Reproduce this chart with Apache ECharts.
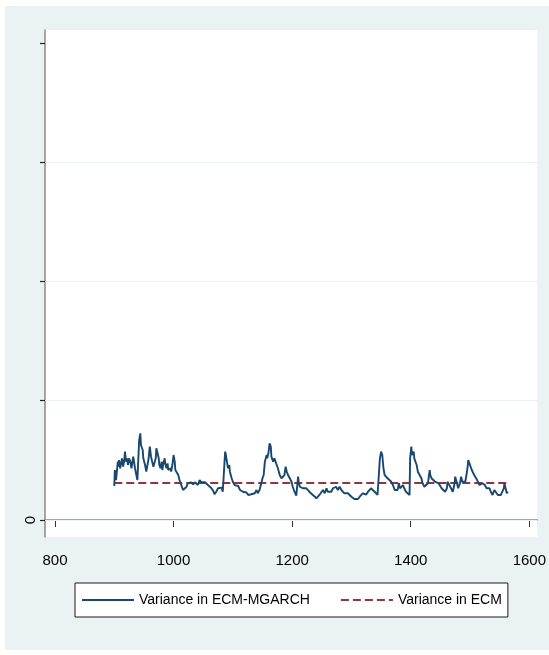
<!DOCTYPE html>
<html>
<head>
<meta charset="utf-8">
<script src="https://cdn.jsdelivr.net/npm/echarts@6/dist/echarts.min.js"></script>
<style>
  html, body { margin: 0; padding: 0; background: #ffffff; }
  #chart { width: 549px; height: 655px; }
</style>
</head>
<body>
<div id="chart"></div>
<script>
// Observation index of each estimate
const obs = [
  900, 901, 903, 906, 907, 908, 910, 913, 915, 917, 918, 920, 922, 923, 925, 927, 929, 932, 935, 939,
  942, 944, 945, 948, 949, 952, 954, 956, 958, 959, 960, 962, 964, 966, 967, 970, 971, 973, 975, 976,
  978, 980, 981, 983, 985, 986, 988, 990, 991, 993, 995, 996, 998, 1000, 1002, 1003, 1005, 1008, 1010, 1013,
  1016, 1019, 1022, 1024, 1027, 1030, 1033, 1036, 1039, 1041, 1044, 1047, 1050, 1053, 1055, 1058, 1061, 1064, 1067, 1069,
  1072, 1075, 1078, 1081, 1083, 1087, 1088, 1090, 1092, 1094, 1095, 1098, 1100, 1103, 1106, 1109, 1112, 1114, 1117, 1120,
  1123, 1126, 1128, 1131, 1134, 1137, 1140, 1142, 1145, 1148, 1150, 1152, 1154, 1157, 1158, 1160, 1162, 1164, 1165, 1168,
  1170, 1173, 1176, 1179, 1182, 1184, 1187, 1189, 1191, 1193, 1196, 1199, 1201, 1204, 1207, 1209, 1210, 1211, 1213, 1215,
  1218, 1221, 1224, 1227, 1229, 1232, 1235, 1238, 1241, 1243, 1246, 1249, 1252, 1255, 1258, 1260, 1263, 1266, 1269, 1272,
  1274, 1277, 1280, 1283, 1286, 1288, 1291, 1294, 1297, 1300, 1302, 1305, 1308, 1311, 1314, 1316, 1319, 1322, 1325, 1328,
  1330, 1333, 1336, 1339, 1342, 1344, 1347, 1348, 1350, 1352, 1354, 1356, 1359, 1361, 1364, 1367, 1370, 1373, 1375, 1378,
  1380, 1382, 1384, 1387, 1389, 1392, 1395, 1398, 1399, 1401, 1402, 1405, 1406, 1408, 1410, 1412, 1415, 1418, 1420, 1423,
  1426, 1429, 1432, 1433, 1435, 1438, 1441, 1444, 1447, 1450, 1452, 1455, 1458, 1461, 1462, 1465, 1468, 1471, 1474, 1475,
  1478, 1480, 1483, 1485, 1487, 1489, 1492, 1494, 1496, 1497, 1499, 1501, 1503, 1505, 1507, 1510, 1512, 1514, 1516, 1519,
  1521, 1523, 1525, 1528, 1530, 1533, 1535, 1538, 1541, 1544, 1547, 1549, 1552, 1555, 1557, 1558, 1560, 1562, 1564
];

// Conditional variance from the ECM-MGARCH model
const mgarchVariance = [
  0.285, 0.419, 0.335, 0.489, 0.447, 0.503, 0.434, 0.517, 0.447, 0.503, 0.573, 0.489, 0.517, 0.461, 0.517, 0.489, 0.434, 0.531, 0.434, 0.335,
  0.671, 0.727, 0.629, 0.587, 0.517, 0.461, 0.405, 0.392, 0.517, 0.573, 0.615, 0.531, 0.489, 0.447, 0.434, 0.517, 0.601, 0.559, 0.517, 0.461,
  0.434, 0.489, 0.419, 0.475, 0.517, 0.475, 0.434, 0.475, 0.419, 0.405, 0.434, 0.405, 0.461, 0.545, 0.489, 0.419, 0.405, 0.377, 0.335, 0.293,
  0.252, 0.237, 0.279, 0.308, 0.293, 0.316, 0.299, 0.316, 0.321, 0.293, 0.335, 0.316, 0.327, 0.316, 0.308, 0.293, 0.279, 0.266, 0.243, 0.216,
  0.237, 0.266, 0.252, 0.271, 0.237, 0.573, 0.553, 0.489, 0.434, 0.461, 0.405, 0.350, 0.321, 0.293, 0.279, 0.285, 0.252, 0.260, 0.237, 0.224,
  0.231, 0.210, 0.204, 0.216, 0.204, 0.224, 0.252, 0.224, 0.252, 0.308, 0.350, 0.377, 0.489, 0.545, 0.517, 0.559, 0.643, 0.615, 0.531, 0.489,
  0.517, 0.475, 0.434, 0.377, 0.350, 0.335, 0.377, 0.447, 0.405, 0.377, 0.350, 0.321, 0.279, 0.237, 0.204, 0.308, 0.363, 0.321, 0.279, 0.293,
  0.266, 0.279, 0.266, 0.252, 0.237, 0.224, 0.210, 0.195, 0.182, 0.195, 0.210, 0.224, 0.252, 0.224, 0.266, 0.237, 0.252, 0.237, 0.266, 0.252,
  0.279, 0.252, 0.279, 0.252, 0.237, 0.224, 0.237, 0.224, 0.210, 0.195, 0.187, 0.176, 0.168, 0.176, 0.195, 0.210, 0.224, 0.224, 0.214, 0.237,
  0.252, 0.266, 0.252, 0.237, 0.224, 0.210, 0.195, 0.517, 0.573, 0.545, 0.434, 0.377, 0.363, 0.350, 0.335, 0.321, 0.293, 0.252, 0.237, 0.252,
  0.308, 0.266, 0.252, 0.293, 0.266, 0.237, 0.224, 0.210, 0.517, 0.615, 0.545, 0.573, 0.517, 0.531, 0.461, 0.405, 0.377, 0.350, 0.308, 0.279,
  0.293, 0.308, 0.419, 0.377, 0.350, 0.335, 0.321, 0.335, 0.308, 0.293, 0.266, 0.252, 0.237, 0.266, 0.321, 0.293, 0.266, 0.237, 0.308, 0.363,
  0.308, 0.266, 0.308, 0.363, 0.321, 0.335, 0.321, 0.377, 0.447, 0.503, 0.475, 0.461, 0.419, 0.405, 0.377, 0.363, 0.335, 0.321, 0.293, 0.279,
  0.308, 0.321, 0.293, 0.266, 0.252, 0.266, 0.237, 0.210, 0.252, 0.237, 0.210, 0.195, 0.210, 0.204, 0.266, 0.308, 0.266, 0.224, 0.237
];

// Constant variance implied by the plain ECM
const ecmVariance = 0.31;

// Axis ticks
const xTicks = [800, 1000, 1200, 1400, 1600];
const yTicks = [0, 1, 2, 3, 4];
const yLabelled = [0];
const yGridLines = [0, 1, 2, 3];

const seriesNames = ['Variance in ECM-MGARCH', 'Variance in ECM'];

const FONT = "'Liberation Sans', Arial, sans-serif";
const BG = '#EAF2F3';

const chart = echarts.init(document.getElementById('chart'), null, { renderer: 'canvas' });

const mgarchData = obs.map((x, i) => [x, mgarchVariance[i]]);
const ecmData = obs.map(x => [x, ecmVariance]);

chart.setOption({
  animation: false,
  backgroundColor: '#ffffff',
  textStyle: { fontFamily: FONT },
  graphic: {
    elements: [{
      type: 'rect',
      z: -100,
      silent: true,
      shape: { x: 5, y: 6, width: 544, height: 644 },
      style: { fill: BG }
    }]
  },
  grid: {
    left: 45, right: 11, top: 30, bottom: 118,
    show: true, backgroundColor: '#ffffff', borderWidth: 0,
    containLabel: false
  },
  legend: {
    data: seriesNames,
    left: 75, top: 583,
    width: 460,
    orient: 'horizontal',
    backgroundColor: '#ffffff',
    borderColor: '#1a1a1a', borderWidth: 1,
    padding: [7, 6, 7, 6],
    itemWidth: 52, itemHeight: 14, itemGap: 30,
    itemStyle: { opacity: 0 },
    textStyle: { fontFamily: FONT, fontSize: 14, color: '#000000', lineHeight: 20 }
  },
  xAxis: {
    type: 'value',
    min: 783.2, max: 1613.5,
    axisLine: { show: true, lineStyle: { color: '#8a8a8a', width: 1.5 } },
    axisTick: { show: true, length: 7, customValues: xTicks, lineStyle: { color: '#333333', width: 1 } },
    axisLabel: {
      customValues: xTicks, margin: 16, fontSize: 15, fontFamily: FONT, color: '#000000',
      formatter: v => String(v)
    },
    splitLine: { show: false }
  },
  yAxis: {
    type: 'value',
    min: -0.1426, max: 4.109,
    axisLine: { show: true, lineStyle: { color: '#8a8a8a', width: 1.5 } },
    axisTick: { show: true, length: 5, customValues: yTicks, lineStyle: { color: '#222222', width: 1.2 } },
    axisLabel: {
      customValues: yLabelled, rotate: 90, margin: 7, fontSize: 15, fontFamily: FONT, color: '#000000',
      formatter: v => String(v)
    },
    splitLine: { show: false }
  },
  series: [
    {
      name: seriesNames[0],
      type: 'line',
      data: mgarchData,
      symbol: 'none',
      z: 3,
      lineStyle: { color: '#1a476f', width: 1.9 },
      itemStyle: { color: '#1a476f' }
    },
    {
      name: seriesNames[1],
      type: 'line',
      data: ecmData,
      symbol: 'none',
      z: 2,
      lineStyle: { color: '#90353b', width: 2, type: [8, 4] },
      itemStyle: { color: '#90353b' },
      markLine: {
        silent: true,
        symbol: 'none',
        label: { show: false },
        emphasis: { disabled: true },
        lineStyle: { color: BG, width: 1.2, type: 'solid' },
        data: yGridLines.map(v => ({ yAxis: v }))
      }
    }
  ]
});
</script>
</body>
</html>
